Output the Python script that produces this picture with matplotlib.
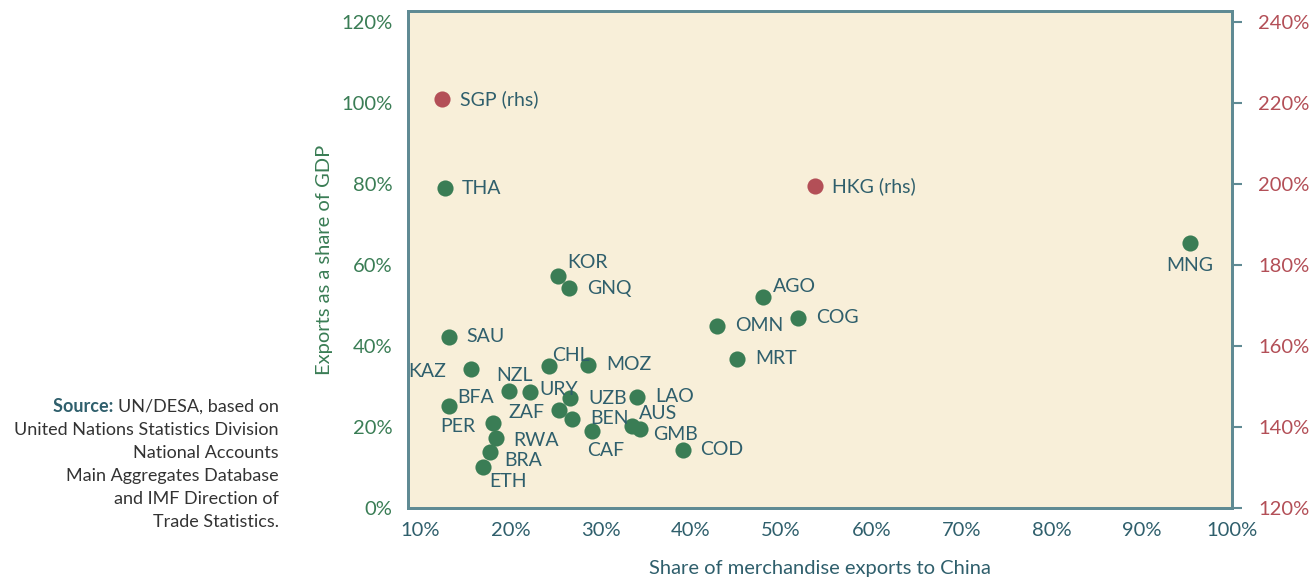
import matplotlib
matplotlib.use('Agg')
import matplotlib.pyplot as plt
from matplotlib.ticker import FuncFormatter

plt.rcParams['font.family'] = ['Lato', 'DejaVu Sans']

# Datos (lhs: exports / GDP)
countries = ["THA", "MNG", "KOR", "GNQ", "SAU", "KAZ", "NZL", "URY", "CHL", "MOZ",
             "UZB", "LAO", "BFA", "PER", "ZAF", "BEN", "CAF", "AUS", "GMB", "COD",
             "RWA", "BRA", "ETH", "AGO", "OMN", "COG", "MRT"]
share_china = [12.7, 95.3, 25.2, 26.5, 13.1, 15.6, 19.8, 22.1, 24.2, 28.6,
               26.6, 34.0, 13.2, 18.0, 25.4, 26.8, 29.0, 33.5, 34.3, 39.1,
               18.4, 17.7, 16.9, 48.0, 42.9, 51.9, 45.1]
exports_gdp = [79.0, 65.4, 57.2, 54.3, 42.3, 34.4, 28.8, 28.6, 35.1, 35.4,
               27.2, 27.5, 25.1, 21.0, 24.1, 22.0, 19.0, 20.3, 19.6, 14.4,
               17.2, 13.9, 10.2, 52.2, 45.0, 47.0, 36.9]

# rhs series
rhs_countries = ["SGP (rhs)", "HKG (rhs)"]
rhs_share_china = [12.4, 53.8]
rhs_exports_gdp = [221.0, 199.5]

# label offsets in pixels (dx, dy, ha)
offsets = {
    "THA": (17, 0, "left"), "MNG": (0, -22, "center"), "KOR": (10, 14, "left"),
    "GNQ": (18, 0, "left"), "SAU": (18, 0, "left"), "KAZ": (-25, -3, "right"),
    "NZL": (6, 16, "center"), "URY": (10, 3, "left"), "CHL": (4, 10, "left"),
    "MOZ": (18, 0, "left"), "UZB": (18, -1, "left"), "LAO": (18, 0, "left"),
    "BFA": (8, 9, "left"), "PER": (-17, -3, "right"), "ZAF": (-15, -2, "right"),
    "BEN": (18, 0, "left"), "CAF": (-5, -19, "left"), "AUS": (6, 12, "left"),
    "GMB": (13, -6, "left"), "COD": (17, 0, "left"), "RWA": (17, -2, "left"),
    "BRA": (14, -9, "left"), "ETH": (6, -15, "left"), "AGO": (10, 10, "left"),
    "OMN": (18, 0, "left"), "COG": (18, 0, "left"), "MRT": (18, 0, "left"),
    "SGP (rhs)": (18, 0, "left"), "HKG (rhs)": (17, 0, "left"),
}

GREEN = "#3a7d55"
RED = "#b34f57"
TEAL = "#2f5f6c"
AXIS = "#5f8a93"
BG = "#f8efd9"

fig = plt.figure(figsize=(13.13, 5.82), dpi=100)
ax = fig.add_axes([0.3107, 0.127, 0.6276, 0.854])
ax.set_facecolor(BG)
ax2 = ax.twinx()

ax.scatter(share_china, exports_gdp, s=135, color=GREEN, zorder=3, linewidths=0)
ax2.scatter(rhs_share_china, rhs_exports_gdp, s=135, color=RED, zorder=3, linewidths=0)

for name, x, y in zip(countries, share_china, exports_gdp):
    dx, dy, ha = offsets[name]
    ax.annotate(name, (x, y), xytext=(dx, dy), textcoords='offset pixels',
                ha=ha, va='center', fontsize=14, color=TEAL)
for name, x, y in zip(rhs_countries, rhs_share_china, rhs_exports_gdp):
    dx, dy, ha = offsets[name]
    ax2.annotate(name, (x, y), xytext=(dx, dy), textcoords='offset pixels',
                 ha=ha, va='center', fontsize=14, color=TEAL)

ax.set_xlim(8.6, 100)
ax.set_ylim(0, 122.7)
ax2.set_ylim(120, 242.7)

pct = FuncFormatter(lambda v, p: f"{v:.0f}%")
ax.set_xticks(range(10, 101, 10))
ax.set_yticks(range(0, 121, 20))
ax2.set_yticks(range(120, 241, 20))
for a in (ax, ax2):
    a.xaxis.set_major_formatter(pct)
    a.yaxis.set_major_formatter(pct)

ax.tick_params(axis='x', length=0, pad=10, labelsize=14.5, labelcolor=TEAL)
ax.tick_params(axis='y', length=0, pad=11, labelsize=14.5, labelcolor=GREEN)
ax2.tick_params(axis='y', length=7, width=1.5, color=AXIS, pad=12, labelsize=14.5, labelcolor=RED)

for a in (ax, ax2):
    for sp in a.spines.values():
        sp.set_color(AXIS)
        sp.set_linewidth(2)

ax.set_xlabel("Share of merchandise exports to China", fontsize=14.5, color=TEAL, labelpad=15)
ax.set_ylabel("Exports as a share of GDP", fontsize=14.5, color=GREEN, labelpad=6)

# Fuente
src_lines = ["UN/DESA, based on", "United Nations Statistics Division", "National Accounts",
             "Main Aggregates Database", "and IMF Direction of", "Trade Statistics."]
x_src = 279 / 1313
first = None
for i, line in enumerate(src_lines):
    t = fig.text(x_src, 1 - (407 + 23 * i) / 582, line, fontsize=13, color="#333333",
                 ha='right', va='center')
    if i == 0:
        first = t
plt.annotate("Source: ", xy=(0, 0.5), xycoords=first, ha='right', va='center',
             fontsize=13, color=TEAL, fontweight='bold')

fig.savefig("out.png", dpi=100)
